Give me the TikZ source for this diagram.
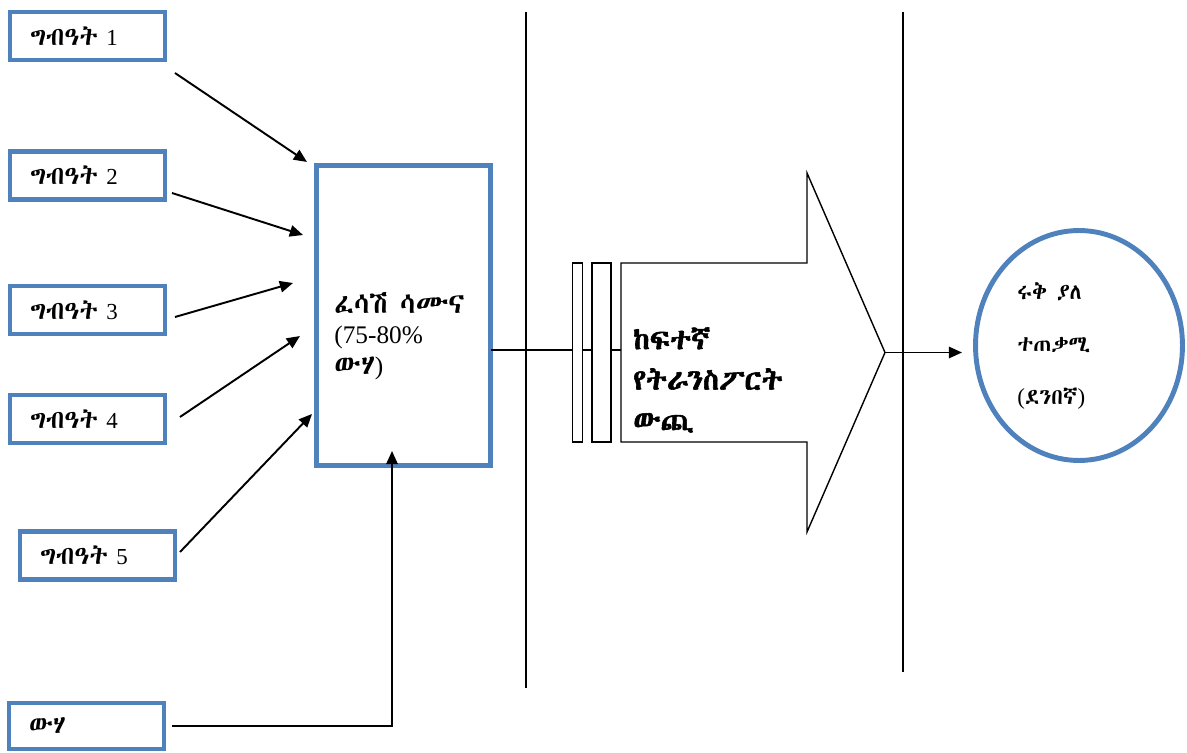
\documentclass[tikz,border=0pt]{standalone}
\usepackage{fontspec}
\usetikzlibrary{arrows.meta,shapes.geometric}
\IfFontExistsTF{FreeSerif.otf}{%
  \newfontfamily\ethfont{FreeSerif}[Extension=.otf]%
  \newfontfamily\ethbold{FreeSerif}[Extension=.otf,FakeBold=2]%
}{\IfFontExistsTF{Abyssinica SIL}{%
  \newfontfamily\ethfont{Abyssinica SIL}%
  \newfontfamily\ethbold{Abyssinica SIL}[FakeBold=2]%
}{%
  \newfontfamily\ethfont{DejaVu Sans}%
  \newfontfamily\ethbold{DejaVu Sans}[FakeBold=2]%
}}
\newfontfamily\latfont{Liberation Serif}[Scale=0.9]
\definecolor{boxblue}{RGB}{79,129,189}
\tikzset{
  inbox/.style={draw=boxblue, line width=2.8pt, fill=white, minimum width=3.1cm, minimum height=0.96cm, text width=2.3cm, align=left, inner sep=0pt, font=\ethfont\fontsize{14.5}{17}\selectfont},
  conn/.style={line width=1.1pt, -{Triangle[length=7.5pt,width=6.5pt]}},
  plain/.style={line width=1.1pt},
  thin/.style={line width=0.8pt},
  divider/.style={line width=1pt},
  lbl/.style={inner sep=0pt, align=left, anchor=west},
}
\begin{document}
\begin{tikzpicture}[x=0.02cm,y=-0.02cm]
\useasboundingbox (0,0) rectangle (1187,753);
% input boxes
\node[inbox] (in1) at (87.5,36) {ግብዓት {\latfont 1}};
\node[inbox] (in2) at (87.5,175.5) {ግብዓት {\latfont 2}};
\node[inbox] (in3) at (87.5,310) {ግብዓት {\latfont 3}};
\node[inbox] (in4) at (87.5,419) {ግብዓት {\latfont 4}};
\node[inbox] (in5) at (97.5,555.5) {ግብዓት {\latfont 5}};
\node[inbox, minimum height=0.92cm] (wat) at (86.5,726) {ውሃ};
% main box
\node[draw=boxblue, line width=2.8pt, minimum width=3.48cm, minimum height=6cm, inner sep=0pt] (main) at (403.5,315.5) {};
\node[lbl, font=\ethfont\fontsize{16}{17.5}\selectfont] (maintxt) at (334,336) {ፈሳሽ ሳሙና\\{\latfont (75-80\%}\\ውሃ{\latfont )}};
% arrow endpoints
\coordinate (s1) at (175,73);  \coordinate (t1) at (307,162);
\coordinate (s2) at (172,193); \coordinate (t2) at (303,235);
\coordinate (s3) at (175,317); \coordinate (t3) at (293,283);
\coordinate (s4) at (180,417); \coordinate (t4) at (300,336);
\coordinate (s5) at (180,552); \coordinate (t5) at (312,414);
\draw[conn] (s1) -- (t1);
\draw[conn] (s2) -- (t2);
\draw[conn] (s3) -- (t3);
\draw[conn] (s4) -- (t4);
\draw[conn] (s5) -- (t5);
% water
\coordinate (ws) at (172,726);
\coordinate (wc) at (392,726);
\coordinate (wt) at (392,451);
\draw[conn] (ws) -- (wc) -- (wt);
% dividers
\coordinate (d1a) at (526,12); \coordinate (d1b) at (526,688);
\coordinate (d2a) at (903,12); \coordinate (d2b) at (903,672);
\draw[divider] (d1a) -- (d1b);
\draw[divider] (d2a) -- (d2b);
% big arrow
\coordinate (ba1) at (621,263);
\coordinate (ba2) at (807,263);
\coordinate (ba3) at (807,173);
\coordinate (batip) at (885,352.5);
\coordinate (ba5) at (807,532);
\coordinate (ba6) at (807,442);
\coordinate (ba7) at (621,442);
\coordinate (bain) at (621,350);
\coordinate (mainout) at (490.5,350);
\draw[plain] (mainout) -- (bain);
\draw[thin, fill=white] (ba1) -- (ba2) -- (ba3) -- (batip) -- (ba5) -- (ba6) -- (ba7) -- cycle;
\node[draw, thin, fill=white, minimum width=0.2cm, minimum height=3.58cm, inner sep=0pt] (r1) at (577.5,352.5) {};
\node[draw, thin, fill=white, minimum width=0.38cm, minimum height=3.58cm, inner sep=0pt] (r2) at (601.5,352.5) {};
\node[lbl, font=\ethbold\fontsize{16.5}{23}\selectfont] (bigtxt) at (633,380) {ከፍተኛ\\የትራንስፖርት\\ውጪ};
% customer
\node[draw=boxblue, line width=2.8pt, ellipse, minimum width=4.14cm, minimum height=4.6cm, inner sep=0pt] (cust) at (1079,345.5) {};
\node[lbl, font=\ethfont\fontsize{12.5}{30}\selectfont] (custtxt) at (1017,346) {ሩቅ ያለ\\ተጠቃሚ\\{\latfont\fontsize{14.5}{30}\selectfont (}ደንበኛ{\latfont\fontsize{14.5}{30}\selectfont )}};
\coordinate (ct) at (962,352.5);
\draw[conn] (batip) -- (ct);
\end{tikzpicture}
\end{document}
